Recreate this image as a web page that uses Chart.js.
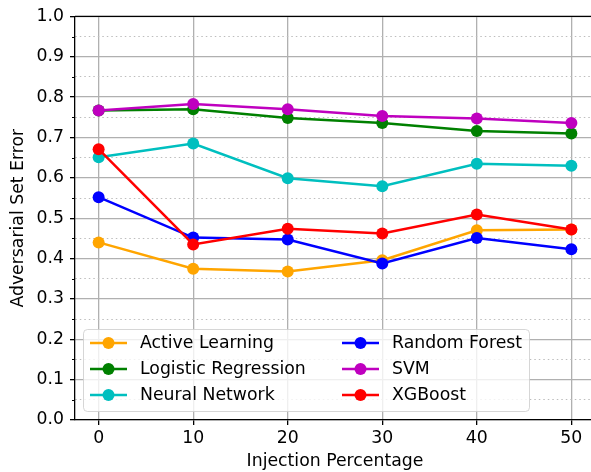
<!DOCTYPE html>
<html>
<head>
<meta charset="utf-8">
<script src="https://cdn.jsdelivr.net/npm/chart.js@4"></script>
<style>
  html, body { margin: 0; padding: 0; background: #fff; overflow: hidden; }
  #wrap { width: 601px; height: 472px; }
</style>
</head>
<body>
<div id="wrap"><canvas id="chart" width="601" height="472"></canvas></div>
<script>
// data
var injection = [0, 10, 20, 30, 40, 50];
var activeLearning     = [0.440, 0.375, 0.368, 0.396, 0.470, 0.472];
var logisticRegression = [0.767, 0.770, 0.748, 0.736, 0.716, 0.710];
var neuralNetwork      = [0.651, 0.685, 0.599, 0.579, 0.635, 0.630];
var randomForest       = [0.552, 0.452, 0.447, 0.388, 0.451, 0.423];
var svm                = [0.767, 0.783, 0.770, 0.753, 0.747, 0.736];
var xgboost            = [0.671, 0.435, 0.474, 0.462, 0.509, 0.472];

var seriesNames  = ['Active Learning', 'Logistic Regression', 'Neural Network', 'Random Forest', 'SVM', 'XGBoost'];
var seriesValues = [activeLearning, logisticRegression, neuralNetwork, randomForest, svm, xgboost];
var seriesColors = ['#ffa500', '#008000', '#00bfbf', '#0000ff', '#bf00bf', '#ff0000'];

var xTicks = [0, 10, 20, 30, 40, 50];
var yTicks = [0, 0.05, 0.1, 0.15, 0.2, 0.25, 0.3, 0.35, 0.4, 0.45, 0.5,
              0.55, 0.6, 0.65, 0.7, 0.75, 0.8, 0.85, 0.9, 0.95, 1.0];

var FONT = "'DejaVu Sans', sans-serif";
var FSIZE = 17.3;

function isMinor(ctx) {
    return ctx.tick && Math.round(ctx.tick.value * 20) % 2 === 1;
}

var datasets = seriesValues.map(function (vals, i) {
    return {
        label: seriesNames[i],
        data: vals.map(function (v, j) { return { x: injection[j], y: v }; }),
        borderColor: seriesColors[i],
        backgroundColor: seriesColors[i],
        borderWidth: 2.5,
        pointRadius: 6,
        pointHoverRadius: 6,
        pointBorderWidth: 0,
        order: seriesValues.length - i
    };
});

// legend box, top spine and minor ticks drawn by hand (matplotlib style)
var extras = {
    id: 'extras',
    afterDraw: function (chart) {
        var c = chart.ctx, a = chart.chartArea, ys = chart.scales.y;
        c.save();
        // minor ticks
        c.strokeStyle = '#000';
        c.lineWidth = 1;
        yTicks.forEach(function (v, k) {
            if (k % 2 === 0) return;
            var py = Math.round(ys.getPixelForValue(v)) + 0.5;
            c.beginPath(); c.moveTo(a.left - 3, py); c.lineTo(a.left, py); c.stroke();
        });
        // top spine
        c.lineWidth = 1.3;
        c.beginPath(); c.moveTo(a.left, a.top); c.lineTo(a.right, a.top); c.stroke();

        // legend
        var bx = a.left + 8, by = a.bottom - 91, bw = 446, bh = 82;
        c.beginPath();
        c.roundRect(bx + 0.5, by + 0.5, bw, bh, 4);
        c.fillStyle = 'rgba(255,255,255,0.8)';
        c.fill();
        c.strokeStyle = 'rgba(204,204,204,0.8)';
        c.lineWidth = 1;
        c.stroke();
        c.font = FSIZE + 'px ' + FONT;
        c.textBaseline = 'middle';
        c.textAlign = 'left';
        seriesNames.forEach(function (name, i) {
            var col = Math.floor(i / 3), row = i % 3;
            var hx = bx + 7 + col * 252, hy = by + 14 + row * 26;
            c.strokeStyle = seriesColors[i];
            c.lineWidth = 2.5;
            c.beginPath(); c.moveTo(hx, hy); c.lineTo(hx + 37, hy); c.stroke();
            c.fillStyle = seriesColors[i];
            c.beginPath(); c.arc(hx + 18.5, hy, 6, 0, Math.PI * 2); c.fill();
            c.fillStyle = '#000';
            c.fillText(name, hx + 50, hy + 1);
        });
        c.restore();
    }
};

new Chart(document.getElementById('chart'), {
    type: 'line',
    data: { datasets: datasets },
    plugins: [extras],
    options: {
        responsive: false,
        animation: false,
        events: [],
        layout: { padding: { left: 0, top: 16, right: 0, bottom: 0 } },
        plugins: { legend: { display: false }, tooltip: { enabled: false } },
        scales: {
            x: {
                type: 'linear',
                min: -2.5,
                max: 52.5,
                afterBuildTicks: function (scale) {
                    scale.ticks = xTicks.map(function (v) { return { value: v }; });
                },
                afterFit: function (scale) { scale.height = 52; },
                grid: { color: '#b0b0b0', lineWidth: 1.3, tickColor: '#000', tickLength: 5, tickWidth: 1.3 },
                border: { color: '#000', width: 1.3 },
                ticks: {
                    color: '#000', padding: 3, maxRotation: 0,
                    font: { family: FONT, size: FSIZE },
                    callback: function (v) { return String(v); }
                },
                title: {
                    display: true, text: 'Injection Percentage', color: '#000',
                    font: { family: FONT, size: FSIZE }, padding: 0
                }
            },
            y: {
                min: 0,
                max: 1,
                afterBuildTicks: function (scale) {
                    scale.ticks = yTicks.map(function (v) { return { value: v }; });
                },
                afterFit: function (scale) { scale.width = 75; },
                grid: {
                    color: function (ctx) { return isMinor(ctx) ? '#bdbdbd' : '#b0b0b0'; },
                    lineWidth: function (ctx) { return isMinor(ctx) ? 1 : 1.3; },
                    tickColor: function (ctx) { return isMinor(ctx) ? 'rgba(0,0,0,0)' : '#000'; },
                    tickLength: 5, tickWidth: 1.3
                },
                border: {
                    color: '#000', width: 1.3,
                    dash: function (ctx) { return isMinor(ctx) ? [1.5, 3] : []; }
                },
                ticks: {
                    color: '#000', padding: 6, autoSkip: false,
                    font: { family: FONT, size: FSIZE },
                    callback: function (v, i) { return i % 2 === 0 ? v.toFixed(1) : ''; }
                },
                title: {
                    display: true, text: 'Adversarial Set Error', color: '#000',
                    font: { family: FONT, size: FSIZE }, padding: { top: 8, bottom: 0 }
                }
            }
        }
    }
});
</script>
</body>
</html>
